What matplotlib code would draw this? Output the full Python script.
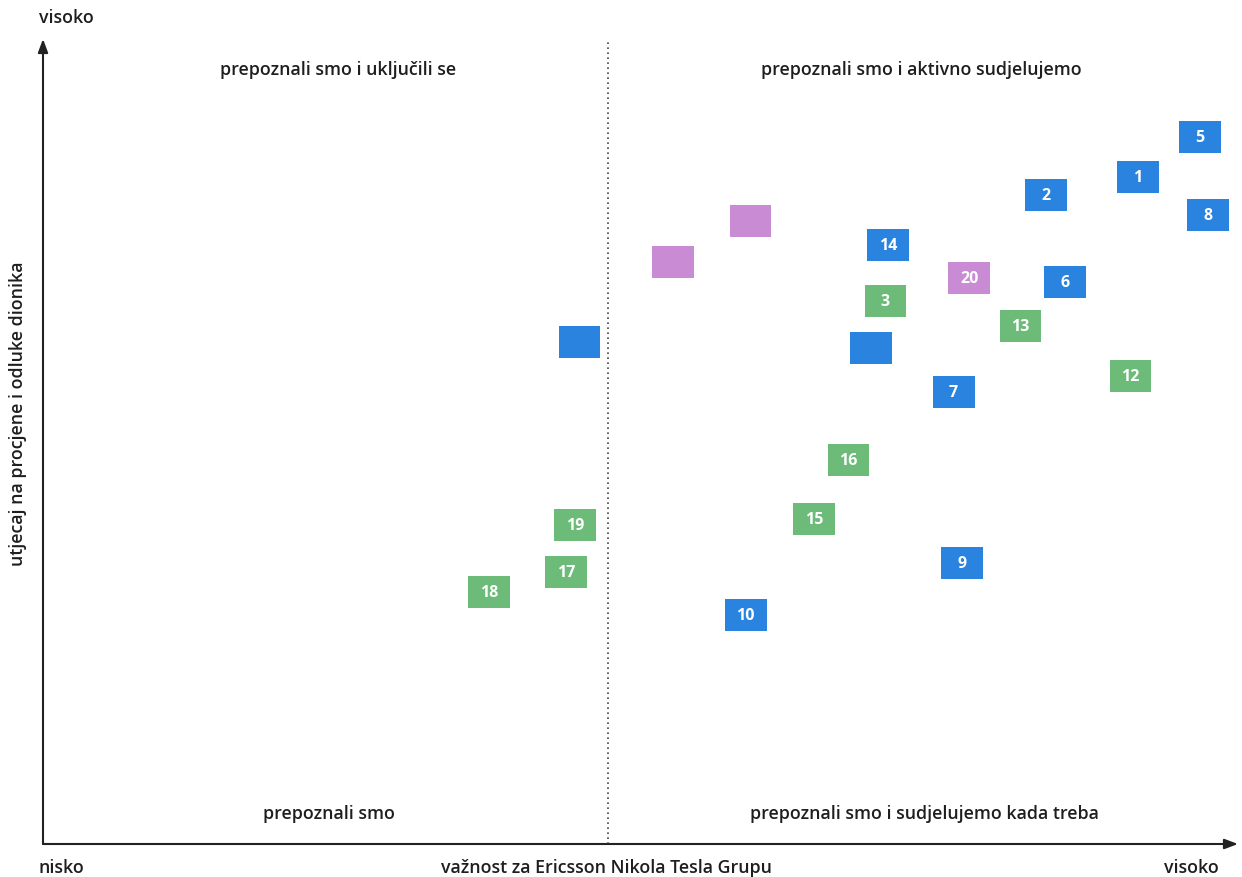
import matplotlib
matplotlib.use("Agg")
import matplotlib.pyplot as plt
from matplotlib.patches import Rectangle

# ---- data (0-10 scales) ----
labels = ["5", "1", "2", "8", "", "", "14", "20", "6", "3", "13", "", "", "12", "7",
          "16", "15", "19", "9", "17", "18", "10"]
importance = [9.68, 9.16, 8.39, 9.75, 5.92, 5.27, 7.07, 7.75, 8.55, 7.05, 8.18, 6.93,
              4.49, 9.10, 7.62, 6.74, 6.45, 4.45, 7.69, 4.38, 3.73, 5.88]
influence = [8.78, 8.29, 8.06, 7.81, 7.74, 7.23, 7.44, 7.03, 6.98, 6.75, 6.43, 6.16,
             6.24, 5.81, 5.61, 4.77, 4.04, 3.96, 3.49, 3.38, 3.13, 2.84]
groups = ["b", "b", "b", "b", "p", "p", "b", "p", "b", "g", "g", "b",
          "b", "g", "b", "g", "g", "g", "b", "g", "g", "b"]
divider = 4.73
quadrant_titles = ["prepoznali smo i uključili se", "prepoznali smo i aktivno sudjelujemo",
                   "prepoznali smo", "prepoznali smo i sudjelujemo kada treba"]

colors = {"b": "#2a84df", "g": "#6cbb78", "p": "#c98bd4"}

W, H = 1242, 878
fig = plt.figure(figsize=(W / 100, H / 100), dpi=100)
fig.patch.set_facecolor("white")
ax = fig.add_axes([43 / W, (H - 845) / H, 1195 / W, 805 / H])
ax.set_xlim(0, 10)
ax.set_ylim(0, 10)
ax.axis("off")

fam = ["Open Sans", "DejaVu Sans"]
txtc = "#1e1e1e"

bw, bh = 0.35, 0.40
for x, y, lab, g in zip(importance, influence, labels, groups):
    ax.add_patch(Rectangle((x - bw / 2, y - bh / 2), bw, bh, facecolor=colors[g],
                           edgecolor="none", zorder=3))
    if lab:
        ax.text(x, y, lab, ha="center", va="center", color="white", fontsize=11.5,
                fontweight="bold", family=fam, zorder=4)

# divider
ax.plot([divider, divider], [0, 10], linestyle=(0, (1, 2)), color="#444444", lw=1.2,
        clip_on=False)

# axes arrows
ax.annotate("", xy=(0, 1.0), xytext=(0, 0), xycoords="axes fraction",
            arrowprops=dict(arrowstyle="-|>,head_length=0.8,head_width=0.3", color="#222222",
                            lw=1.5, shrinkA=0, shrinkB=0))
ax.annotate("", xy=(1.0, 0), xytext=(0, 0), xycoords="axes fraction",
            arrowprops=dict(arrowstyle="-|>,head_length=0.8,head_width=0.3", color="#222222",
                            lw=1.5, shrinkA=0, shrinkB=0))

def px(xp, yp):
    return xp / W, 1 - yp / H

fs = 12.8
kw = dict(fontsize=fs, fontweight="semibold", family=fam, color=txtc)
fig.text(*px(338, 70), quadrant_titles[0], ha="center", va="center", **kw)
fig.text(*px(921, 70), quadrant_titles[1], ha="center", va="center", **kw)
fig.text(*px(329, 814), quadrant_titles[2], ha="center", va="center", **kw)
fig.text(*px(924, 814), quadrant_titles[3], ha="center", va="center", **kw)

fig.text(*px(39, 18), "visoko", ha="left", va="center", **kw)
fig.text(*px(18, 414), "utjecaj na procjene i odluke dionika", ha="center", va="center",
         rotation=90, **kw)
fig.text(*px(39, 868), "nisko", ha="left", va="center", **kw)
fig.text(*px(606, 868), "važnost za Ericsson Nikola Tesla Grupu", ha="center", va="center",
         **kw)
fig.text(*px(1219, 868), "visoko", ha="right", va="center", **kw)

fig.savefig("out.png", dpi=100, facecolor="white")
